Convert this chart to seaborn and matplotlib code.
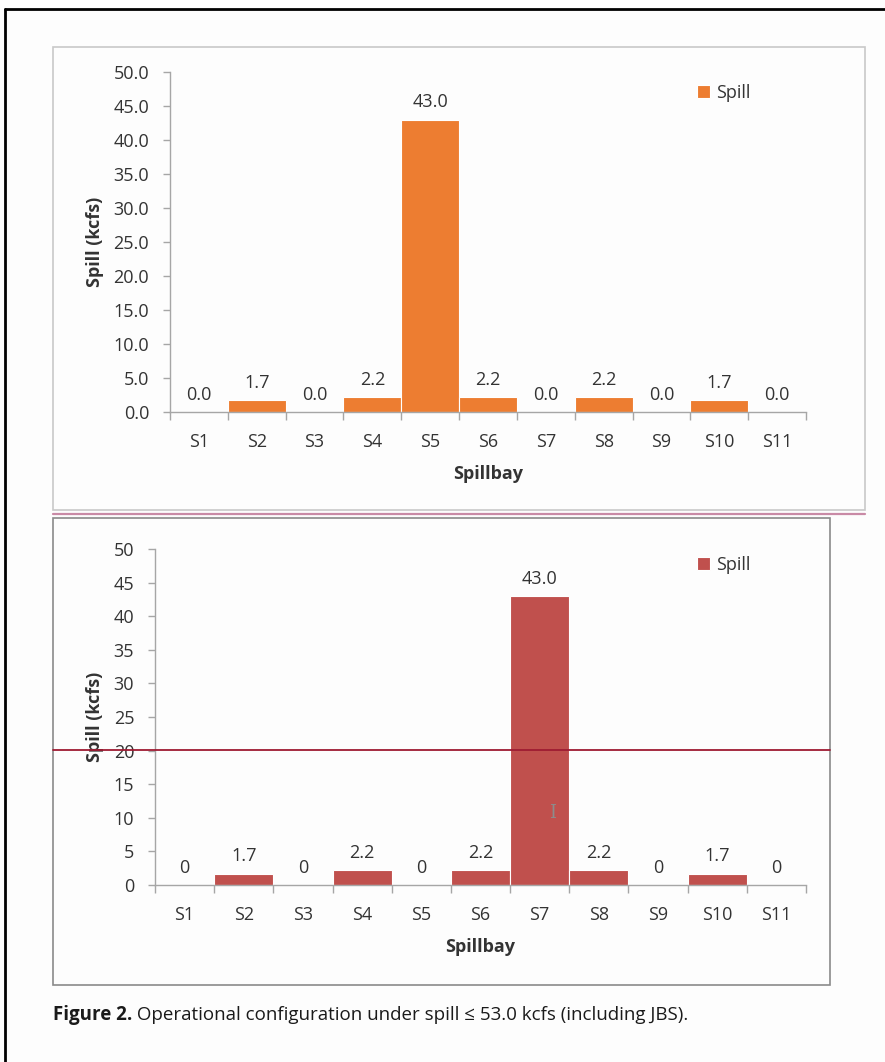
import matplotlib
matplotlib.use("Agg")
import matplotlib.pyplot as plt
from matplotlib.lines import Line2D
from matplotlib.patches import Rectangle
from matplotlib.ticker import FixedLocator, FormatStrFormatter
import seaborn as sns
import pandas as pd

# Spill per spillbay for the two operating configurations
spillbays = ["S1", "S2", "S3", "S4", "S5", "S6", "S7", "S8", "S9", "S10", "S11"]
spill_config_a = [0.0, 1.7, 0.0, 2.2, 43.0, 2.2, 0.0, 2.2, 0.0, 1.7, 0.0]
spill_config_b = [0.0, 1.7, 0.0, 2.2, 0.0, 2.2, 43.0, 2.2, 0.0, 1.7, 0.0]
labels_a = ["0.0", "1.7", "0.0", "2.2", "43.0", "2.2", "0.0", "2.2", "0.0", "1.7", "0.0"]
labels_b = ["0", "1.7", "0", "2.2", "0", "2.2", "43.0", "2.2", "0", "1.7", "0"]
yticks = [0, 5, 10, 15, 20, 25, 30, 35, 40, 45, 50]

caption_bold = "Figure 2."
caption_rest = " Operational configuration under spill \u2264 53.0 kcfs (including JBS)."

sns.set_style("white")
FONT = ["Open Sans", "DejaVu Sans"]
plt.rcParams["font.family"] = FONT

W, H = 885, 1062
fig = plt.figure(figsize=(W / 100, H / 100), dpi=100)
fig.patch.set_facecolor("#fdfdfd")


def fx(x):
    return x / W


def fy(y):
    return 1 - y / H


def axes_rect(x0, x1, y_top, y_bot):
    return [fx(x0), fy(y_bot), fx(x1) - fx(x0), fy(y_top) - fy(y_bot)]


# Outer frame (left and top edges visible)
fig.add_artist(Line2D([fx(5), fx(5)], [fy(9), 0], transform=fig.transFigure,
                      color="black", lw=2))
fig.add_artist(Line2D([fx(5), 1], [fy(9), fy(9)], transform=fig.transFigure,
                      color="black", lw=2))

# Chart frames
fig.add_artist(Rectangle((fx(53), fy(510)), fx(865) - fx(53), fy(47) - fy(510),
                         transform=fig.transFigure, fill=False,
                         edgecolor="#c9c9c9", lw=1.2))
fig.add_artist(Line2D([fx(53), fx(865)], [fy(514), fy(514)], transform=fig.transFigure,
                      color="#c98aa6", lw=1.6))
fig.add_artist(Rectangle((fx(53), fy(985)), fx(830) - fx(53), fy(518) - fy(985),
                         transform=fig.transFigure, fill=False,
                         edgecolor="#8a8a8a", lw=1.2))

TXT = "#333333"
AX = "#a6a6a6"
FS = 13


def draw_panel(rect, values, labels, color, tick_fmt, legend_anchor, ylab_x):
    ax = fig.add_axes(rect)
    ax.set_facecolor("none")
    df = pd.DataFrame({"Spillbay": spillbays, "Spill": values})
    sns.barplot(data=df, x="Spillbay", y="Spill", color=color, width=1.0,
                edgecolor="white", linewidth=0.8, saturation=1, label="Spill", ax=ax)
    ax.set_xlim(-0.5, len(spillbays) - 0.5)
    ax.set_ylim(0, 50)
    ax.yaxis.set_major_locator(FixedLocator(yticks))
    ax.yaxis.set_major_formatter(FormatStrFormatter(tick_fmt))
    for s in ["top", "right"]:
        ax.spines[s].set_visible(False)
    for s in ["left", "bottom"]:
        ax.spines[s].set_color(AX)
        ax.spines[s].set_linewidth(1.0)
    ax.tick_params(axis="y", which="major", length=5, width=1, color=AX,
                   labelsize=FS, labelcolor=TXT, pad=10, left=True)
    ax.tick_params(axis="x", which="major", length=0, labelsize=FS,
                   labelcolor=TXT, pad=15)
    ax.xaxis.set_minor_locator(FixedLocator([i - 0.5 for i in range(len(spillbays) + 1)]))
    ax.tick_params(axis="x", which="minor", length=6, width=1, color=AX, bottom=True)
    ax.bar_label(ax.containers[0], labels=labels, padding=6, fontsize=FS, color=TXT)
    ax.set_xlabel("Spillbay", fontsize=FS, fontweight="bold", color=TXT, labelpad=10)
    ax.set_ylabel("Spill (kcfs)", fontsize=FS, fontweight="bold", color=TXT)
    ax.yaxis.set_label_coords(ylab_x, 0.5)
    ax.legend(loc="upper left", bbox_to_anchor=legend_anchor,
              bbox_transform=fig.transFigure, frameon=False, fontsize=FS,
              handlelength=0.7, handleheight=0.7, handletextpad=0.35,
              borderpad=0, borderaxespad=0, labelcolor=TXT)
    return ax


ax_a = draw_panel(axes_rect(170, 806, 72, 412), spill_config_a, labels_a,
                  "#ED7D31", "%.1f", (fx(697), fy(84)), -0.104)
ax_b = draw_panel(axes_rect(155, 806, 549, 885), spill_config_b, labels_b,
                  "#C0504D", "%d", (fx(697), fy(556)), -0.079)

# Screen overlay: horizontal guide line and text cursor
fig.add_artist(Line2D([fx(53), fx(830)], [fy(750), fy(750)], transform=fig.transFigure,
                      color="#9e1b32", lw=1.3))
fig.text(fx(553), fy(813), "I", ha="center", va="center", fontsize=13,
         color="#8c8c8c", family="DejaVu Serif")

# Caption: bold figure number followed by regular text
t1 = fig.text(fx(53), fy(1015), caption_bold, ha="left", va="center",
              fontsize=13.5, fontweight="bold", color="#1a1a1a")
ax_b.annotate(caption_rest, xy=(1, 0.5), xycoords=t1, va="center", ha="left",
              fontsize=13.5, color="#1a1a1a", annotation_clip=False)

fig.savefig("out.png", dpi=100, facecolor=fig.get_facecolor())
